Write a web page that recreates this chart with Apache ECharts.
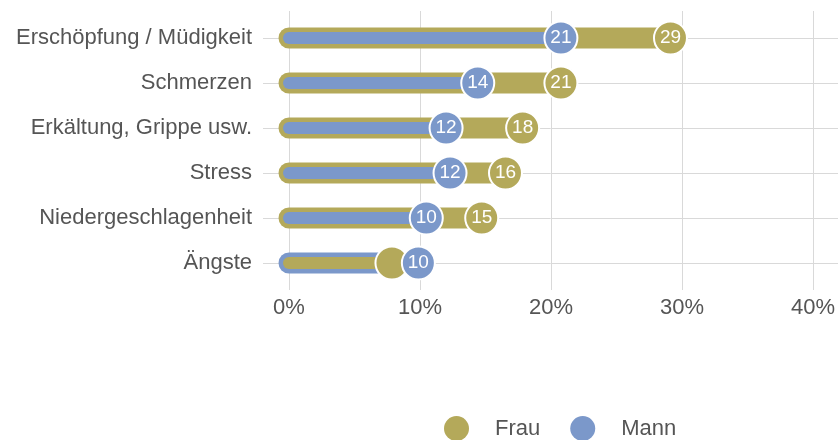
<!DOCTYPE html>
<html>
<head>
<meta charset="utf-8">
<script src="https://cdn.jsdelivr.net/npm/echarts@6/dist/echarts.min.js"></script>
<style>
  html, body { margin: 0; padding: 0; background: #fff; }
  #chart { width: 838px; height: 440px; }
</style>
</head>
<body>
<div id="chart"></div>
<script>
// Werte in Prozent
var categories = ['Erschöpfung / Müdigkeit', 'Schmerzen', 'Erkältung, Grippe usw.', 'Stress', 'Niedergeschlagenheit', 'Ängste'];
var frau = [28.9, 20.6, 17.7, 16.4, 14.6, 7.8];
var mann = [20.6, 14.3, 11.9, 12.2, 10.4, 9.8];
var xTicks = [0, 10, 20, 30, 40];

var OLIVE = '#b4a95a';
var BLUE = '#7b98ca';
var TEXT = '#555555';
var GRIDLINE = '#d9d9d9';
var FONT = 'Liberation Sans';

var chart = echarts.init(document.getElementById('chart'), null, { renderer: 'canvas' });

// pro Kategorie: [max, index, frau, mann]
var barData = categories.map(function (c, i) { return [Math.max(frau[i], mann[i]), i, frau[i], mann[i]]; });

function renderBars(params, api) {
  var i = api.value(1);
  var f = api.value(2), m = api.value(3);
  var big = Math.max(f, m), small = Math.min(f, m);
  var bigColor = f >= m ? OLIVE : BLUE;
  var smallColor = f >= m ? BLUE : OLIVE;
  var p0 = api.coord([0, i]);
  var pBig = api.coord([big, i]);
  var pSmall = api.coord([small, i]);
  return {
    type: 'group',
    children: [
      { type: 'line', shape: { x1: p0[0], y1: p0[1], x2: pBig[0], y2: pBig[1] },
        style: { stroke: bigColor, lineWidth: 21, lineCap: 'round' } },
      { type: 'line', shape: { x1: p0[0], y1: p0[1], x2: pSmall[0], y2: pSmall[1] },
        style: { stroke: smallColor, lineWidth: 12, lineCap: 'round' } }
    ]
  };
}

var circleStyle = function (color) {
  return { color: color, borderColor: '#fff', borderWidth: 2, opacity: 1 };
};

chart.setOption({
  animation: false,
  textStyle: { fontFamily: FONT },
  legend: {
    left: 439,
    top: 411,
    itemWidth: 25,
    itemHeight: 25,
    itemGap: 30,
    icon: 'circle',
    itemStyle: { borderWidth: 0, opacity: 1 },
    textStyle: { fontSize: 22, color: TEXT, fontFamily: FONT, padding: [0, 0, 0, 21] },
    data: ['Frau', 'Mann']
  },
  grid: [
    { left: 289, right: 21, top: 11, height: 279 },
    { left: 263, right: 0, top: 38, height: 225 },
    { left: 289, right: 21, top: 15.5, height: 270 }
  ],
  xAxis: [
    {
      gridIndex: 0, type: 'value', min: xTicks[0], max: xTicks[xTicks.length - 1], interval: 10,
      axisLine: { show: false }, axisTick: { show: false },
      splitLine: { show: true, lineStyle: { color: GRIDLINE, width: 1 } },
      axisLabel: { formatter: '{value}%', fontSize: 22, color: TEXT, margin: 7, fontFamily: FONT }
    },
    { gridIndex: 1, type: 'value', show: false, splitLine: { show: false } },
    { gridIndex: 2, type: 'value', show: false, min: 0, max: 40, splitLine: { show: false } }
  ],
  yAxis: [
    { gridIndex: 0, type: 'value', show: false, splitLine: { show: false } },
    {
      gridIndex: 1, type: 'category', inverse: true, boundaryGap: false, data: categories,
      axisLine: { show: false }, axisTick: { show: false },
      splitLine: { show: true, interval: 0, lineStyle: { color: GRIDLINE, width: 1 } },
      axisLabel: { fontSize: 22, color: TEXT, margin: 11, interval: 0, fontFamily: FONT }
    },
    { gridIndex: 2, type: 'category', inverse: true, data: categories, show: false }
  ],
  series: [
    {
      name: 'Balken', type: 'custom', xAxisIndex: 2, yAxisIndex: 2,
      renderItem: renderBars, encode: { x: 0, y: 1 }, data: barData, silent: true
    },
    {
      name: 'Frau', type: 'scatter', xAxisIndex: 2, yAxisIndex: 2,
      symbolSize: 33, itemStyle: circleStyle(OLIVE),
      data: frau.map(function (v, i) { return [v, i]; }),
      label: {
        show: true, position: 'inside', color: '#fff', fontSize: 19, fontFamily: FONT,
        formatter: function (p) { var i = p.data[1]; return mann[i] > frau[i] ? '' : String(Math.round(frau[i])); }
      }
    },
    {
      name: 'Mann', type: 'scatter', xAxisIndex: 2, yAxisIndex: 2,
      symbolSize: 33, itemStyle: circleStyle(BLUE),
      data: mann.map(function (v, i) { return [v, i]; }),
      label: {
        show: true, position: 'inside', color: '#fff', fontSize: 19, fontFamily: FONT,
        formatter: function (p) { return String(Math.round(p.data[0])); }
      }
    }
  ]
});
</script>
</body>
</html>
